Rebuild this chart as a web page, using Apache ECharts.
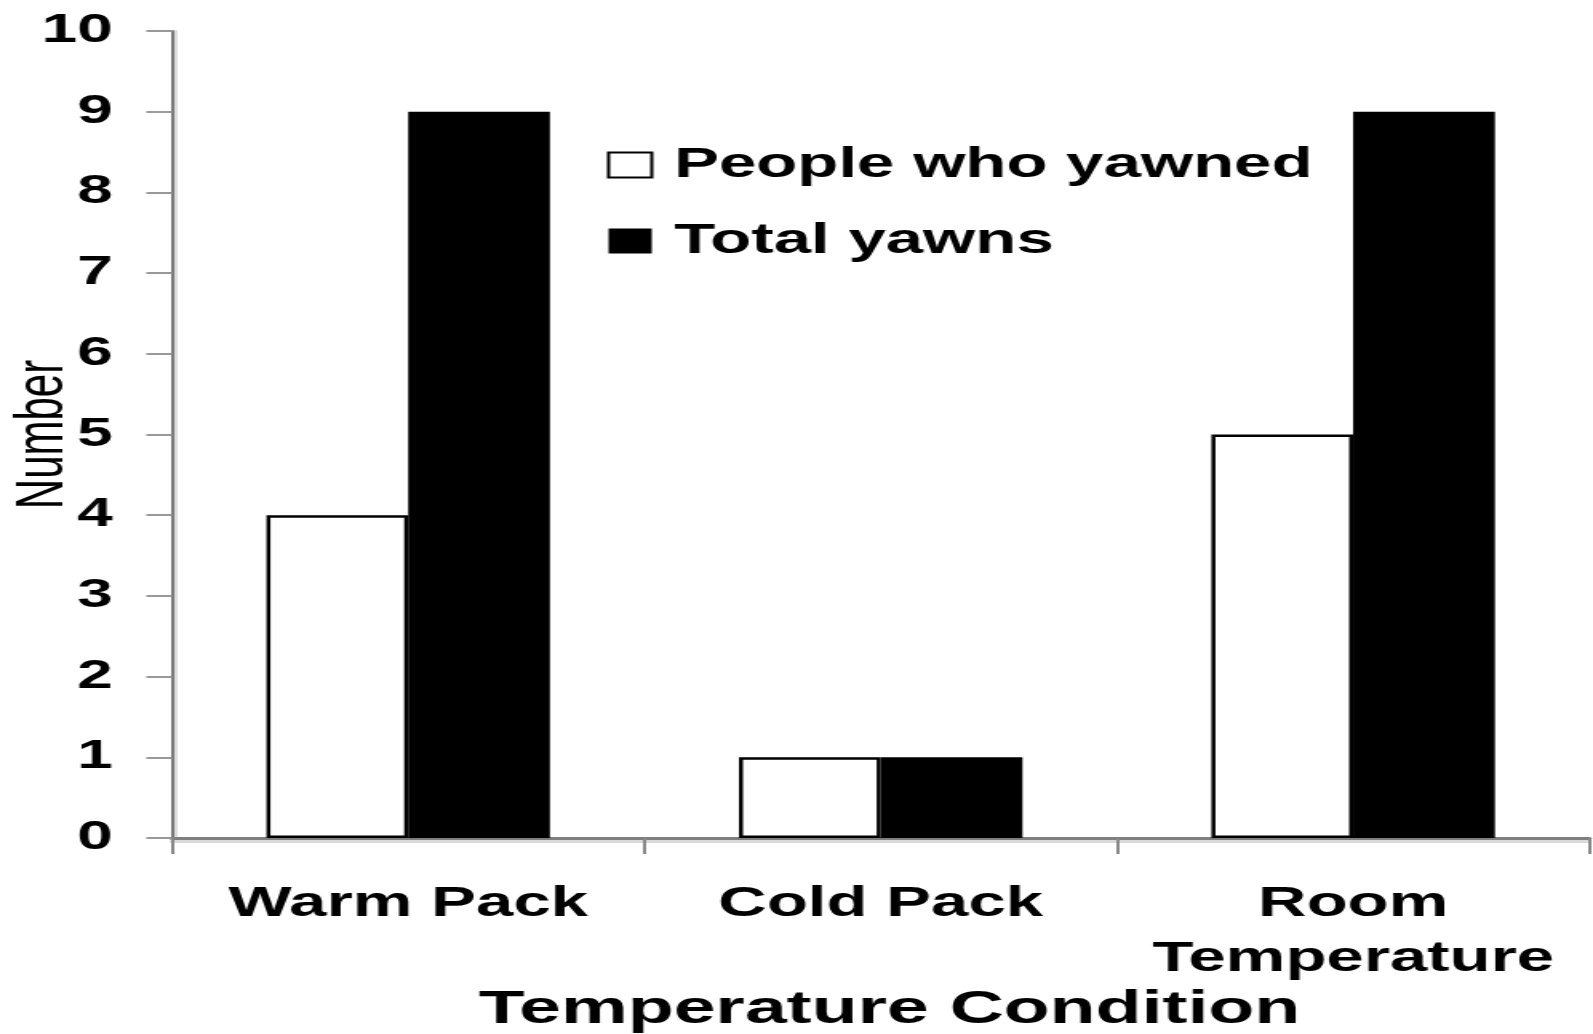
<!DOCTYPE html>
<html>
<head>
<meta charset="utf-8">
<script src="https://cdn.jsdelivr.net/npm/echarts@6/dist/echarts.min.js"></script>
<style>
  html, body { margin: 0; padding: 0; background: #fff; overflow: hidden; }
  #chart { width: 996px; height: 1034px; transform: scaleX(1.59940); transform-origin: 0 0; }
</style>
</head>
<body>
<div id="chart"></div>
<script>
const categories = ['Warm Pack', 'Cold Pack', 'Room\nTemperature'];
const peopleWhoYawned = [4, 1, 5];
const totalYawns = [9, 1, 9];
const yMin = 0, yMax = 10, yStep = 1;

const FONT = 'Liberation Sans, Arial, sans-serif';
const chart = echarts.init(document.getElementById('chart'), null, { renderer: 'canvas' });
chart.setOption({
  backgroundColor: '#ffffff',
  animation: false,
  grid: { left: 107.5, right: 2.25, top: 31, bottom: 196, containLabel: false, outerBoundsMode: 'none' },
  legend: {
    orient: 'vertical',
    left: 374.5,
    top: 139,
    itemWidth: 27,
    itemHeight: 25,
    itemGap: 34,
    icon: 'rect',
    textStyle: { fontFamily: FONT, fontWeight: 'bold', fontSize: 42, color: '#000', padding: [0, 0, 0, 9] },
    data: ['People who yawned', 'Total yawns']
  },
  xAxis: {
    type: 'category',
    data: categories,
    name: 'Temperature Condition',
    nameLocation: 'middle',
    nameGap: 149,
    nameMoveOverlap: false,
    nameTextStyle: { fontFamily: FONT, fontWeight: 'bold', fontSize: 47, lineHeight: 46, color: '#000', padding: [0, 0, 0, 11] },
    axisLine: { lineStyle: { color: '#7f7f7f', width: 3, shadowColor: '#d9d9d9', shadowOffsetY: 3, shadowBlur: 0 } },
    axisTick: { show: true, length: 16, lineStyle: { color: '#888', width: 2 } },
    axisLabel: { fontFamily: FONT, fontWeight: 'bold', fontSize: 42, lineHeight: 55, color: '#000', margin: 39, interval: 0 },
    splitLine: { show: false }
  },
  yAxis: {
    type: 'value',
    min: yMin, max: yMax, interval: yStep,
    name: 'Number',
    nameLocation: 'middle',
    nameGap: 59,
    nameMoveOverlap: false,
    nameTextStyle: { fontFamily: FONT, fontWeight: 'normal', fontSize: 42, lineHeight: 42, color: '#000' },
    axisLine: { show: true, lineStyle: { color: '#7a7a7a', width: 2, shadowColor: '#dcdcdc', shadowOffsetX: 2, shadowBlur: 0 } },
    axisTick: { show: true, length: 16, lineStyle: { color: '#999', width: 2 } },
    axisLabel: { fontFamily: FONT, fontWeight: 'bold', fontSize: 40, color: '#000', margin: 37 },
    splitLine: { show: false }
  },
  series: [
    {
      name: 'People who yawned',
      type: 'bar',
      data: peopleWhoYawned,
      barGap: '0%',
      barCategoryGap: '40%',
      itemStyle: { color: '#ffffff', borderColor: '#000000', borderWidth: 2.5 }
    },
    {
      name: 'Total yawns',
      type: 'bar',
      data: totalYawns,
      barGap: '0%',
      barCategoryGap: '40%',
      itemStyle: { color: '#000000' }
    }
  ]
});
</script>
</body>
</html>
